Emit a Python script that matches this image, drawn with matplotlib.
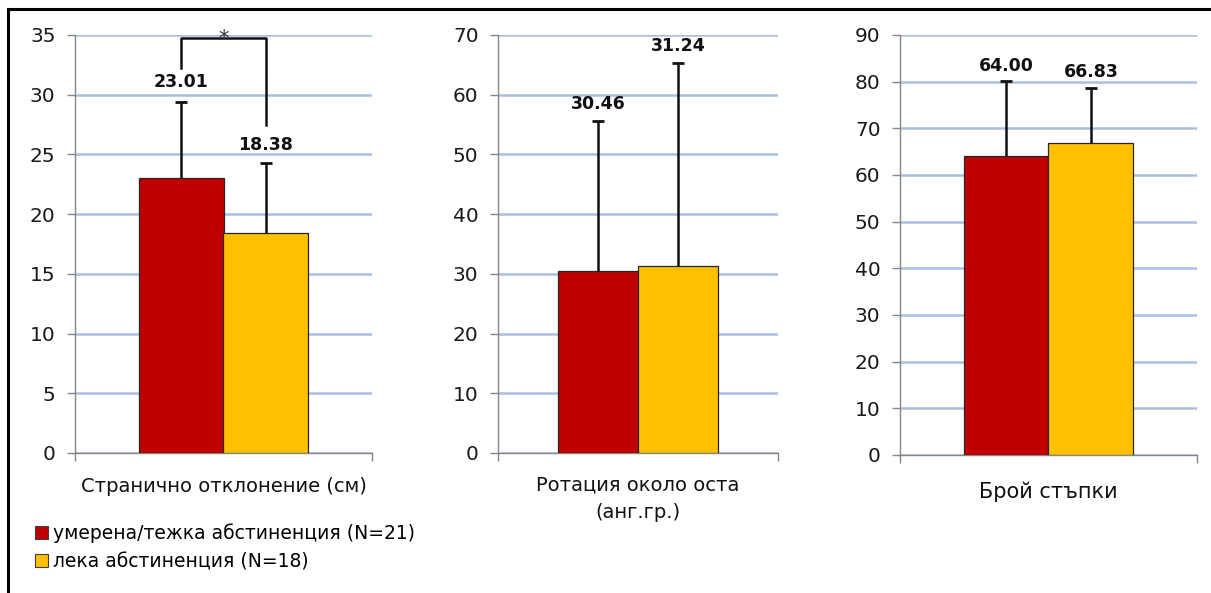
import matplotlib
matplotlib.use("Agg")
import matplotlib.pyplot as plt
from matplotlib.patches import Patch
from matplotlib.lines import Line2D

plt.rcParams['font.family'] = ['DejaVu Sans']

# Groups and colours
groups = ["умерена/тежка абстиненция (N=21)", "лека абстиненция (N=18)"]
colors = ["#C00000", "#FFC000"]

# Measures (one panel each)
measures = ["Странично отклонение (см)", "Ротация около оста\n(анг.гр.)", "Брой стъпки"]
means_severe = [23.01, 30.46, 64.00]
means_mild = [18.38, 31.24, 66.83]
sd_severe = [6.4, 25.1, 16.1]
sd_mild = [5.9, 34.1, 11.9]
y_max = [35, 70, 90]
y_step = [5, 10, 10]

# Significance bracket on the first panel: top, left-leg end, right-leg end
bracket = [34.75, 32.2, 27.5]

W, H = 1211, 593
fig = plt.figure(figsize=(W / 100, H / 100), dpi=100)

# panel boxes in pixels (left, right, top, bottom)
boxes = [(75, 372, 35, 453), (498, 778, 35, 453), (900, 1197, 35, 455)]
label_y = [487, 499, 492]
label_size = [14, 14, 15]
# gap (points) between an error-bar cap and its value label
label_gap = [[8, 6.5], [6, 5.5], [4.5, 5]]

grid_col = "#A9BFE7"
spine_col = "#868686"
bw = 0.285

for i, (l, r, t, b) in enumerate(boxes):
    ax = fig.add_axes([l / W, 1 - b / H, (r - l) / W, (b - t) / H])
    ax.set_xlim(0, 1)
    ax.set_ylim(0, y_max[i])
    ax.set_yticks(range(0, y_max[i] + 1, y_step[i]))
    ax.set_xticks([0, 1])
    ax.set_xticklabels([])
    for s in ("top", "right"):
        ax.spines[s].set_visible(False)
    for s in ("left", "bottom"):
        ax.spines[s].set_color(spine_col)
        ax.spines[s].set_linewidth(1.0)
    ax.tick_params(axis="y", direction="out", length=5.5, width=1.0, color=spine_col,
                   labelsize=14.5, pad=8.5, labelcolor="#1a1a1a")
    ax.tick_params(axis="x", direction="out", length=5.5, width=1.0, color=spine_col)
    ax.yaxis.grid(True, color=grid_col, linewidth=1.8)
    ax.set_axisbelow(True)

    xs = [0.5 - bw / 2, 0.5 + bw / 2]
    vals = [means_severe[i], means_mild[i]]
    sds = [sd_severe[i], sd_mild[i]]
    for j, (x, v, sd, c) in enumerate(zip(xs, vals, sds, colors)):
        ax.bar(x, v, width=bw, color=c, edgecolor="#262626", linewidth=0.9, zorder=3)
        # upper error bar only
        ax.vlines(x, v, v + sd, color="#111111", linewidth=1.8, zorder=4)
        ax.plot([x], [v + sd], marker="_", markersize=9, markeredgewidth=2.0,
                color="#111111", zorder=4, clip_on=False)
        ax.annotate(f"{v:.2f}", (x, v + sd), xytext=(0, label_gap[i][j]),
                    textcoords="offset points", ha="center", va="bottom",
                    fontsize=12.5, fontweight="bold", color="#111111")

    fig.text(((l + r) / 2) / W, 1 - label_y[i] / H, measures[i], ha="center",
             va="center", fontsize=label_size[i], linespacing=1.6, color="#111111")

    if i == 0:
        top, left_end, right_end = bracket
        ax.plot([xs[0], xs[0], xs[1], xs[1]], [left_end, top, top, right_end],
                color="#111111", linewidth=1.8, zorder=5, clip_on=False)
        ax.annotate("*", (0.5, top), xytext=(0, -8), textcoords="offset points",
                    ha="center", va="bottom", fontsize=15, color="#333333",
                    zorder=6)

handles = [Patch(facecolor=c, edgecolor="#404040", linewidth=0.8) for c in colors]
fig.legend(handles, groups, loc="upper left", bbox_to_anchor=(35 / W, 1 - 523 / H),
           frameon=False, fontsize=13.5, handlelength=0.7, handleheight=0.7,
           handletextpad=0.25, labelspacing=0.5, borderaxespad=0, borderpad=0)

# outer frame (left and top edges)
fig.add_artist(Line2D([8 / W, 8 / W], [0, 1 - 9 / H], color="black", linewidth=2.2))
fig.add_artist(Line2D([8 / W, 1], [1 - 9 / H, 1 - 9 / H], color="black", linewidth=2.2))

fig.savefig("out.png", dpi=100, facecolor="white")
